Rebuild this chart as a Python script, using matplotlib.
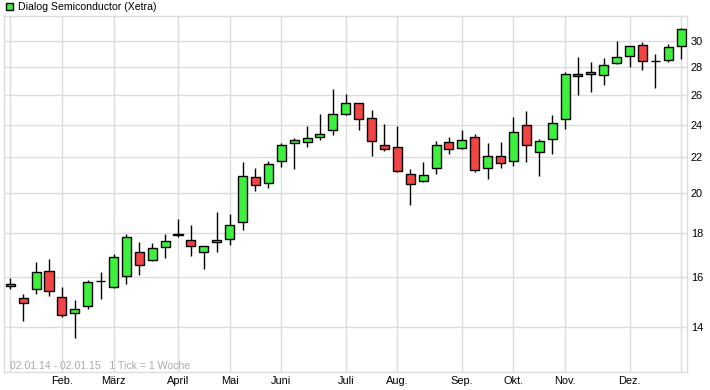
import matplotlib
matplotlib.use("Agg")
import matplotlib.pyplot as plt
from matplotlib.patches import Rectangle
from matplotlib.ticker import FixedLocator, NullLocator, NullFormatter, FixedFormatter

plt.rcParams['font.family'] = ['Liberation Sans', 'DejaVu Sans']

title = "Dialog Semiconductor (Xetra)"
footnote = "02.01.14 - 02.01.15   1 Tick = 1 Woche"

weeks = list(range(53))
opens = [15.59, 15.10, 15.47, 16.23, 15.14, 14.51, 14.81, 15.80, 15.55, 16.01,
         17.07, 16.71, 17.30, 17.90, 17.63, 17.07, 17.54, 17.68, 18.50, 20.85,
         20.52, 21.76, 22.83, 22.90, 23.20, 23.64, 24.67, 25.40, 24.41, 22.71,
         22.59, 21.02, 20.63, 21.36, 22.90, 22.53, 23.20, 21.36, 22.06, 21.76,
         23.96, 22.29, 23.08, 24.34, 27.45, 27.45, 27.38, 28.27, 28.80, 29.66,
         28.42, 28.49, 29.58]
highs = [15.94, 15.28, 16.64, 16.77, 15.56, 15.03, 15.86, 16.20, 17.00, 17.93,
         17.55, 17.49, 17.93, 18.66, 18.36, 17.37, 19.01, 18.91, 21.72, 21.38,
         21.78, 22.87, 23.16, 23.91, 24.69, 26.39, 26.04, 25.45, 24.95, 24.02,
         23.91, 21.32, 21.72, 22.97, 23.22, 23.68, 23.41, 22.83, 22.91, 24.49,
         24.89, 23.10, 24.62, 27.60, 28.74, 28.36, 28.64, 29.98, 29.62, 29.89,
         28.95, 29.74, 31.03]
lows = [15.47, 14.23, 15.29, 15.21, 14.36, 13.60, 14.69, 15.09, 15.52, 15.70,
        16.08, 16.68, 16.83, 17.80, 16.92, 16.32, 17.10, 17.40, 18.13, 20.12,
        20.28, 21.45, 21.34, 22.63, 23.05, 23.36, 24.60, 23.68, 22.09, 22.39,
        21.15, 19.38, 20.60, 21.06, 22.21, 22.50, 21.17, 20.78, 21.40, 21.51,
        21.74, 20.94, 22.21, 23.74, 25.99, 26.21, 26.70, 28.25, 28.01, 27.79,
        26.49, 28.34, 28.61]
closes = [15.68, 14.90, 16.19, 15.39, 14.43, 14.70, 15.76, 15.82, 16.85, 17.77,
          16.49, 17.26, 17.58, 17.92, 17.35, 17.35, 17.63, 18.35, 20.91, 20.41,
          21.59, 22.71, 23.02, 23.14, 23.39, 24.67, 25.40, 24.34, 22.96, 22.47,
          21.19, 20.47, 20.97, 22.71, 22.47, 23.02, 21.25, 22.06, 21.65, 23.51,
          22.71, 22.96, 24.08, 27.45, 27.30, 27.60, 28.12, 28.72, 29.58, 28.42,
          28.43, 29.50, 30.95]

month_weeks = [0, 4, 8, 13, 17, 21, 26, 30, 35, 39, 43, 48, 52]
month_labels = ["", "Feb.", "März", "April", "Mai", "Juni", "Juli", "Aug.",
                "Sep.", "Okt.", "Nov.", "Dez.", ""]
price_ticks = [14, 16, 18, 20, 22, 24, 26, 28, 30]

GREEN = "#3ef03e"
RED = "#f24444"
GRID = "#dcdcdc"

fig = plt.figure(figsize=(7.1, 3.9), dpi=100)
W, H = 710, 390
ax = fig.add_axes([4.3 / W, 1 - 372 / H, (686.7 - 4.3) / W, (372 - 16) / H])
ax.set_yscale("log")
ax.set_xlim(-0.465, 52.43)
ax.set_ylim(12.41, 32.07)

ax.set_axisbelow(True)
ax.grid(True, color=GRID, linewidth=1.0)
for sp in ax.spines.values():
    sp.set_color(GRID)
    sp.set_linewidth(1.0)

# wicks
ax.vlines(weeks, lows, highs, color="black", linewidth=1.0, zorder=2)
# bodies
bottoms = [min(o, c) for o, c in zip(opens, closes)]
heights = [abs(c - o) for o, c in zip(opens, closes)]
colors = [GREEN if c >= o else RED for o, c in zip(opens, closes)]
ax.bar(weeks, heights, bottom=bottoms, width=0.70, color=colors,
       edgecolor="black", linewidth=1.0, zorder=3)

ax.yaxis.tick_right()
ax.yaxis.set_major_locator(FixedLocator(price_ticks))
ax.yaxis.set_major_formatter(FixedFormatter([str(t) for t in price_ticks]))
ax.yaxis.set_minor_locator(NullLocator())
ax.yaxis.set_minor_formatter(NullFormatter())
ax.xaxis.set_major_locator(FixedLocator(month_weeks))
ax.xaxis.set_major_formatter(FixedFormatter(month_labels))
ax.tick_params(axis="both", length=0, labelsize=7.9, colors="black")
ax.tick_params(axis="y", pad=3)
ax.tick_params(axis="x", pad=3)

# footnote inside plot
fig.text(10 / W, 1 - 366 / H, footnote, color="#aaaaaa", fontsize=7.6,
         va="center", ha="left")

# title with legend square
fig.add_artist(Rectangle((5.5 / W, 1 - 10 / H), 7 / W, 7 / H,
                         transform=fig.transFigure, facecolor=GREEN,
                         edgecolor="black", linewidth=1.0))
fig.text(17.5 / W, 1 - 7 / H, title, fontsize=7.6, va="center", ha="left")

fig.savefig("out.png", dpi=100)
